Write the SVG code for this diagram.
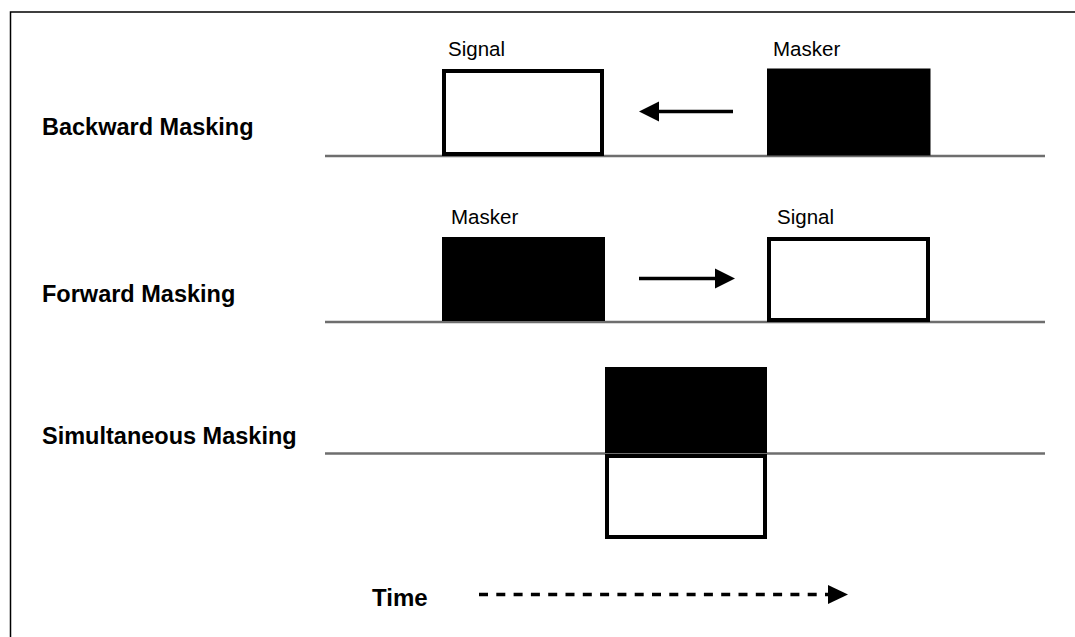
<svg xmlns="http://www.w3.org/2000/svg" width="1075" height="637" viewBox="0 0 1075 637">
  <style>
    .title { font-family: "Liberation Sans", Arial, sans-serif; font-weight: bold; font-size: 23.5px; fill: #000; }
    .lbl { font-family: "Liberation Sans", Arial, sans-serif; font-size: 20.5px; fill: #000; }
    .axis { stroke: #6e6e6e; stroke-width: 2.5; fill: none; }
    .masker { fill: #000; }
    .signal { fill: #fff; stroke: #000; stroke-width: 4; }
    .arrow { stroke: #000; stroke-width: 3.5; fill: none; }
    .head { fill: #000; }
  </style>
  <rect width="1075" height="637" fill="#fff"/>
  <!-- frame -->
  <path d="M10.5 637 V12 H1075" fill="none" stroke="#000" stroke-width="1.5"/>

  <!-- row titles -->
  <text class="title" x="42" y="135">Backward Masking</text>
  <text class="title" x="42" y="301.5">Forward Masking</text>
  <text class="title" x="42" y="444">Simultaneous Masking</text>

  <!-- time axes -->
  <g id="axes">
    <line class="axis" x1="325" y1="156" x2="1045" y2="156"/>
    <line class="axis" x1="325" y1="322" x2="1045" y2="322"/>
    <line class="axis" x1="325" y1="453.5" x2="1045" y2="453.5"/>
  </g>

  <!-- backward masking -->
  <g id="bw-signal">
    <rect class="signal" x="444" y="71" width="158" height="83"/>
    <text class="lbl" x="448" y="56">Signal</text>
  </g>
  <g id="bw-masker">
    <rect class="masker" x="767" y="68.5" width="163.5" height="87"/>
    <text class="lbl" x="773" y="56">Masker</text>
  </g>

  <!-- forward masking -->
  <g id="fw-masker">
    <rect class="masker" x="442" y="237" width="163" height="84"/>
    <text class="lbl" x="451" y="224">Masker</text>
  </g>
  <g id="fw-signal">
    <rect class="signal" x="769" y="239" width="159" height="81"/>
    <text class="lbl" x="777" y="224">Signal</text>
  </g>

  <!-- simultaneous masking -->
  <g id="sim-masker">
    <rect class="masker" x="605" y="367" width="162" height="86"/>
  </g>
  <g id="sim-signal">
    <rect class="signal" x="607" y="456" width="158" height="81"/>
  </g>

  <!-- connectors -->
  <g id="connectors">
    <line class="arrow" x1="733" y1="111.5" x2="656" y2="111.5"/>
    <polygon class="head" points="639,111.5 659,101.5 659,121.5"/>
    <line class="arrow" x1="639" y1="278.5" x2="718" y2="278.5"/>
    <polygon class="head" points="735,278.5 715,268.5 715,288.5"/>
    <line class="arrow" x1="479" y1="594.5" x2="830" y2="594.5" stroke-dasharray="9 8.3"/>
    <polygon class="head" points="848,594.5 828,585 828,604"/>
  </g>

  <text class="title" x="372" y="606" style="font-size:24px">Time</text>
</svg>
